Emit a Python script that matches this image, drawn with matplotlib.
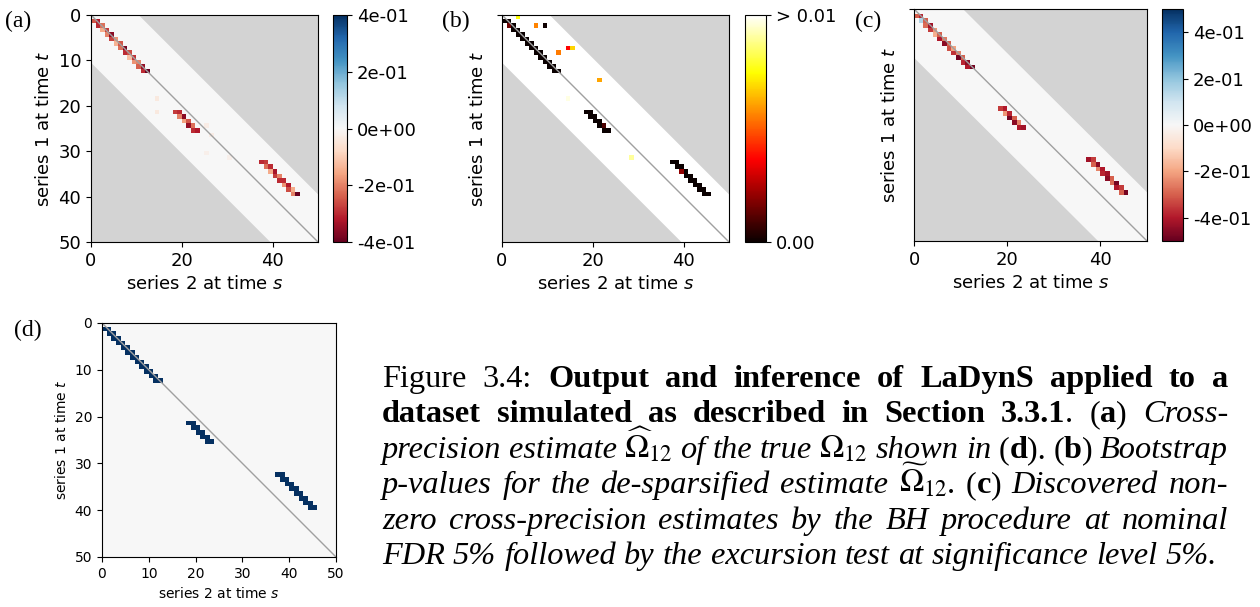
import numpy as np
import matplotlib
matplotlib.use("Agg")
import matplotlib.pyplot as plt

plt.rcParams["axes.unicode_minus"] = False

W, H = 1260, 607
N = 50
band_w = 10.5  # half-width of the estimated band (|s - t| <= band_w)

# nonzero cells: rows t, two columns per row starting at s = t + offset
blk_rows = [list(range(1, 13)), list(range(21, 26)), list(range(32, 40))]
blk_off = [-1, -3, 5]

# (d) true cross-precision values
true_vals = [0.4] * 24 + [0.4] * 10 + [0.4] * 16

# (a) estimate values, two per row
est_a = [
    [-0.25, -0.32, -0.30, -0.22, -0.15, -0.28, -0.20, -0.36, -0.27, -0.18, -0.14, -0.25,
     -0.22, -0.38, -0.30, -0.26, -0.12, -0.29, -0.18, -0.20, -0.24, -0.35, -0.30, -0.42],
    [-0.28, -0.30, -0.20, -0.36, -0.16, -0.25, -0.35, -0.22, -0.30, -0.32],
    [-0.30, -0.28, -0.22, -0.30, -0.15, -0.33, -0.28, -0.20, -0.30, -0.30, -0.18, -0.32,
     -0.26, -0.15, -0.20, -0.40],
]
a_extra_t = [18, 21, 24, 26, 30, 31]
a_extra_s = [14, 14, 25, 26, 25, 30]
a_extra_v = [-0.04, -0.04, -0.03, -0.03, -0.02, -0.02]

# (b) bootstrap p-values
pval_b = [
    [0.0, 0.0, 0.0015, 0.0] + [0.0] * 20,
    [0.0] * 6 + [0.0, 0.001] + [0.0] * 2,
    [0.0] * 4 + [0.002, 0.0] + [0.0] * 10,
]
b_extra_t = [0, 2, 2, 7, 7, 8, 14, 18, 31]
b_extra_s = [3, 7, 9, 14, 15, 12, 21, 14, 28]
b_extra_p = [0.0075, 0.0056, 0.0001, 0.0037, 0.0068, 0.0055, 0.0061, 0.0097, 0.009]

# (c) discovered non-zero estimates
est_c = [
    [-0.30, -0.38, 0.15, -0.30, -0.28, -0.42, -0.35, -0.22, -0.18, -0.30, -0.40, -0.26,
     -0.45, -0.30, -0.32, -0.20, -0.36, -0.25, -0.48, -0.30, -0.38, -0.45, -0.40, -0.48],
    [-0.35, -0.40, -0.22, -0.38, -0.48, -0.30, -0.45, -0.25, -0.40, -0.42],
    [-0.42, -0.35, -0.30, -0.45, -0.25, -0.40, -0.38, -0.42, -0.45, -0.30, -0.28, -0.48,
     -0.40, -0.35, -0.30, -0.48],
]


def build(vals, et=(), es=(), ev=()):
    M = np.full((N, N), np.nan)
    for rows, off, v in zip(blk_rows, blk_off, vals):
        for k, t in enumerate(rows):
            M[t, t + off] = v[2 * k]
            M[t, t + off + 1] = v[2 * k + 1]
    for t, s, v in zip(et, es, ev):
        M[t, s] = v
    return M


def rect(l, t, r, b):
    return [l / W, 1 - b / H, (r - l) / W, (b - t) / H]


fig = plt.figure(figsize=(W / 100, H / 100), dpi=100)

rdbu = plt.get_cmap("RdBu").copy()
rdbu.set_bad((0, 0, 0, 0))
hot = plt.get_cmap("hot").copy()
hot.set_bad((0, 0, 0, 0))
xs = np.linspace(0, N, 200)


def heat(ax, M, cmap, vmin, vmax, inner, band=True, fs=13):
    if band:
        ax.set_facecolor("lightgray")
        ax.fill_between(xs, xs - band_w, xs + band_w, color=inner, lw=0, zorder=0)
    else:
        ax.set_facecolor(inner)
    im = ax.imshow(M, cmap=cmap, vmin=vmin, vmax=vmax, extent=(0, N, N, 0),
                   aspect="auto", interpolation="nearest", zorder=1)
    ax.plot([0, N], [0, N], color="#a0a0a0", lw=1.0, zorder=2)
    ax.set_xlim(0, N)
    ax.set_ylim(N, 0)
    ax.set_xlabel("series 2 at time $s$", fontsize=fs)
    ax.set_ylabel("series 1 at time $t$", fontsize=fs)
    ax.tick_params(labelsize=fs)
    return im


# (a)
ax_a = fig.add_axes(rect(91, 15, 318, 242))
im_a = heat(ax_a, build(est_a, a_extra_t, a_extra_s, a_extra_v), rdbu, -0.4, 0.4, "#f7f7f7")
ax_a.set_xticks([0, 20, 40])
ax_a.set_yticks([0, 10, 20, 30, 40, 50])
cb = fig.colorbar(im_a, cax=fig.add_axes(rect(333, 15, 347, 242)),
                  ticks=[-0.4, -0.2, 0, 0.2, 0.4], format="{x:.0e}")
cb.ax.tick_params(labelsize=13)

# (b)
ax_b = fig.add_axes(rect(502, 15, 729, 242))
im_b = heat(ax_b, build(pval_b, b_extra_t, b_extra_s, b_extra_p), hot, 0, 0.01, "white")
ax_b.set_xticks([0, 20, 40])
ax_b.set_yticks([0])
ax_b.set_yticklabels([""])
cb = fig.colorbar(im_b, cax=fig.add_axes(rect(745, 15, 766, 242)), ticks=[0, 0.01])
cb.ax.set_yticklabels(["0.00", "> 0.01"])
cb.ax.tick_params(labelsize=13)

# (c)
ax_c = fig.add_axes(rect(914, 9, 1147, 241))
im_c = heat(ax_c, build(est_c), rdbu, -0.5, 0.5, "#f7f7f7")
ax_c.set_xticks([0, 20, 40])
ax_c.set_yticks([0])
ax_c.set_yticklabels([""])
cb = fig.colorbar(im_c, cax=fig.add_axes(rect(1162, 9, 1183, 241)),
                  ticks=[-0.4, -0.2, 0, 0.2, 0.4], format="{x:.0e}")
cb.ax.tick_params(labelsize=13)

# (d)
ax_d = fig.add_axes(rect(102, 323, 336, 557))
heat(ax_d, build([true_vals[:24], true_vals[24:34], true_vals[34:]]), rdbu, -0.4, 0.4,
     "#f7f7f7", band=False, fs=10)
ax_d.set_xticks(range(0, 51, 10))
ax_d.set_yticks(range(0, 51, 10))

# panel letters
serif = "Liberation Serif"
for lab, px, py in [("(a)", 5, 27), ("(b)", 442, 27), ("(c)", 855, 27), ("(d)", 14, 336)]:
    fig.text(px / W, 1 - py / H, lab, fontsize=17, family=serif, va="baseline")

# caption
cap_lines = [
    [("Figure 3.4: ", "r"), ("Output and inference of LaDynS applied to a", "b")],
    [("dataset simulated as described in Section 3.3.1", "b"), (". (", "r"), ("a", "b"),
     (") ", "r"), ("Cross-", "i")],
    [("precision estimate ", "i"), (r"$\widehat{\Omega}_{12}$", "m"), (" of the true ", "i"),
     (r"$\Omega_{12}$", "m"), (" shown in ", "i"), ("(", "r"), ("d", "b"), ("). (", "r"),
     ("b", "b"), (") ", "r"), ("Bootstrap", "i")],
    [("p-values for the de-sparsified estimate ", "i"), (r"$\widetilde{\Omega}_{12}$", "m"),
     (". (", "r"), ("c", "b"), (") ", "r"), ("Discovered non-", "i")],
    [("zero cross-precision estimates by the BH procedure at nominal", "i")],
    [("FDR 5% followed by the excursion test at significance level 5%.", "i")],
]
cap_base = [387, 422, 458, 493, 529, 564]
cap_x0, cap_x1 = 382, 1228
cap_fs = 23.3
styles = {"r": {}, "b": {"weight": "bold"}, "i": {"style": "italic"}, "m": {}}

renderer = fig.canvas.get_renderer()
space = 0.25 * cap_fs * 100 / 72
for li, segs in enumerate(cap_lines):
    words = [[]]
    for txt, sty in segs:
        for j, part in enumerate(txt.split(" ")):
            if j > 0:
                words.append([])
            if part:
                words[-1].append((part, sty))
    words = [w for w in words if w]
    placed = []
    for w in words:
        pieces = []
        for txt, sty in w:
            t = fig.text(0, 0, txt, fontsize=cap_fs, family=serif, math_fontfamily="stix",
                         va="baseline", **styles[sty])
            pieces.append((t, t.get_window_extent(renderer).width))
        placed.append(pieces)
    widths = [sum(p[1] for p in pcs) for pcs in placed]
    if li == len(cap_lines) - 1:
        gap = space
    else:
        gap = max((cap_x1 - cap_x0 - sum(widths)) / (len(placed) - 1), 0.5 * space)
    x = cap_x0
    for pcs, ww in zip(placed, widths):
        xx = x
        for t, pw in pcs:
            t.set_position((xx / W, 1 - cap_base[li] / H))
            xx += pw
        x += ww + gap

fig.savefig("out.png", dpi=100)
